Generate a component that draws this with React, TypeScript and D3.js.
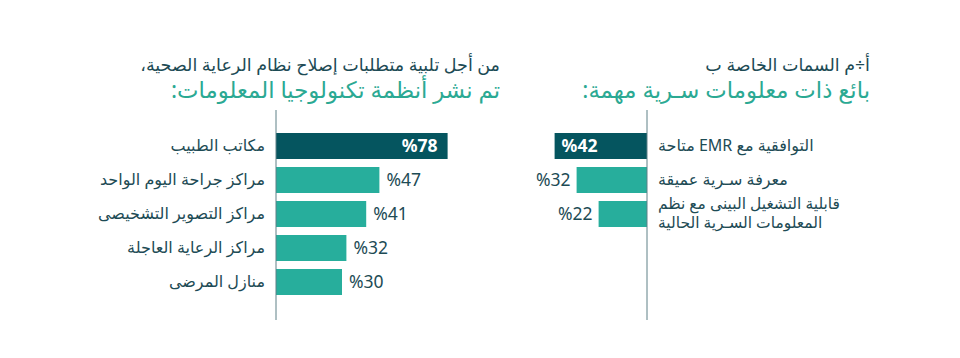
import { scaleBand, scaleLinear } from 'd3'

const WIDTH = 960
const HEIGHT = 358

const DARK = '#05555f'
const LIGHT = '#27ae9c'
const TEXT = '#1d4b55'
const TITLE_TEAL = '#2ba993'
const AXIS = '#5f8087'
const FONT = '"Noto Sans", "DejaVu Sans", sans-serif'

// left chart: where IT systems were deployed
const leftTitle = ['من أجل تلبية متطلبات إصلاح نظام الرعاية الصحية،', 'تم نشر أنظمة تكنولوجيا المعلومات:']
const leftCategories = ['مكاتب الطبيب', 'مراكز جراحة اليوم الواحد', 'مراكز التصوير التشخيصى', 'مراكز الرعاية العاجلة', 'منازل المرضى']
const leftValues = [78, 47, 41, 32, 30]

// right chart: vendor characteristics
const rightTitle = ['أ÷م السمات الخاصة ب', 'بائع ذات معلومات سـرية مهمة:']
const rightCategories = [['التوافقية مع EMR متاحة'], ['معرفة سـرية عميقة'], ['قابلية التشغيل البينى مع نظم', 'المعلومات السـرية الحالية']]
const rightValues = [42, 32, 22]

const highlightIndex = 0
const LINE_GAP = 19.5

export default function App() {
  const xLeft = scaleLinear().domain([0, 100]).range([276, 496])
  const yLeft = scaleBand<number>()
    .domain(leftValues.map((_, i) => i))
    .range([129, 299])
    .paddingInner(8 / 34)
    .paddingOuter(4 / 34)

  const xRight = scaleLinear().domain([0, 100]).range([647, 427])
  const yRight = scaleBand<number>()
    .domain(rightValues.map((_, i) => i))
    .range([129, 231])
    .paddingInner(8 / 34)
    .paddingOuter(4 / 34)

  const bw = yLeft.bandwidth()
  const rtl = { direction: 'rtl' as const, unicodeBidi: 'embed' as const }

  return (
    <svg
      width={WIDTH}
      height={HEIGHT}
      viewBox={`0 0 ${WIDTH} ${HEIGHT}`}
      style={{ position: 'absolute', left: 0, top: 0, display: 'block', background: '#fff' }}
      fontFamily={FONT}
    >
      {/* titles */}
      <g style={rtl}>
        <text x={500} y={71} fontSize={17.5} fill={TEXT} textAnchor="start">{leftTitle[0]}</text>
        <text x={500} y={98} fontSize={22.8} fill={TITLE_TEAL} textAnchor="start">{leftTitle[1]}</text>
        <text x={870} y={71} fontSize={17.5} fill={TEXT} textAnchor="start">{rightTitle[0]}</text>
        <text x={870} y={98} fontSize={22.8} fill={TITLE_TEAL} textAnchor="start">{rightTitle[1]}</text>
      </g>

      {/* left chart */}
      <g>
        {leftValues.map((v, i) => {
          const y = yLeft(i) ?? 0
          const x1 = xLeft(v)
          const hi = i === highlightIndex
          return (
            <g key={i}>
              <rect x={xLeft(0)} y={y} width={x1 - xLeft(0)} height={bw} fill={hi ? DARK : LIGHT} />
              <text
                x={hi ? x1 - 10 : x1 + 7}
                y={y + bw / 2}
                dy="0.36em"
                fontSize={17.5}
                fontWeight={hi ? 700 : 400}
                fill={hi ? '#fff' : TEXT}
                textAnchor={hi ? 'end' : 'start'}
              >
                {`%${v}`}
              </text>
              <text
                x={265}
                y={y + bw / 2}
                dy="0.33em"
                fontSize={16}
                fill={TEXT}
                style={rtl}
                textAnchor="start"
              >
                {leftCategories[i]}
              </text>
            </g>
          )
        })}
        <line x1={xLeft(0)} x2={xLeft(0)} y1={110} y2={320} stroke={AXIS} strokeWidth={1} />
      </g>

      {/* right chart */}
      <g>
        {rightValues.map((v, i) => {
          const y = yRight(i) ?? 0
          const x1 = xRight(v)
          const hi = i === highlightIndex
          const lines = rightCategories[i]
          const cy = y + bw / 2
          return (
            <g key={i}>
              <rect x={x1} y={y} width={xRight(0) - x1} height={bw} fill={hi ? DARK : LIGHT} />
              <text
                x={hi ? x1 + 7 : x1 - 6}
                y={cy}
                dy="0.36em"
                fontSize={17.5}
                fontWeight={hi ? 700 : 400}
                fill={hi ? '#fff' : TEXT}
                textAnchor={hi ? 'start' : 'end'}
              >
                {`%${v}`}
              </text>
              {lines.map((line, j) => (
                <text
                  key={j}
                  x={658}
                  y={cy + (j - (lines.length - 1) / 2) * LINE_GAP}
                  dy="0.3em"
                  fontSize={lines.length > 1 ? 15.5 : 16}
                  fill={TEXT}
                  style={rtl}
                  textAnchor="end"
                >
                  {line}
                </text>
              ))}
            </g>
          )
        })}
        <line x1={xRight(0)} x2={xRight(0)} y1={110} y2={320} stroke={AXIS} strokeWidth={1} />
      </g>
    </svg>
  )
}
